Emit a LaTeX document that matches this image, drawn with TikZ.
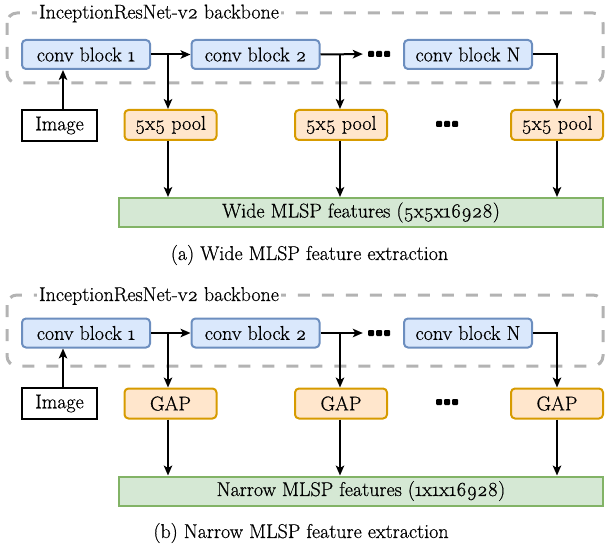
\documentclass[tikz,border=0pt]{standalone}
\usepackage{fontspec}
\setmainfont{Latin Modern Roman}[Numbers=OldStyle, FakeBold=0.6]
\usetikzlibrary{arrows.meta}
\definecolor{cbfill}{HTML}{DAE8FC}
\definecolor{cbdraw}{HTML}{6C8EBF}
\definecolor{plfill}{HTML}{FFE6CC}
\definecolor{pldraw}{HTML}{D79B00}
\definecolor{ftfill}{HTML}{D5E8D4}
\definecolor{ftdraw}{HTML}{82B366}
\definecolor{bbgray}{RGB}{179,179,179}
\tikzset{
  txt/.style={font=\fontsize{20}{23}\selectfont},
  cbbox/.style={txt, draw=cbdraw, fill=cbfill, rounded corners=4pt, line width=2pt,
    minimum width=128pt, minimum height=29pt, inner sep=0pt},
  plbox/.style={txt, draw=pldraw, fill=plfill, rounded corners=4pt, line width=2pt,
    minimum width=92pt, minimum height=30pt, inner sep=0pt},
  ftbox/.style={txt, draw=ftdraw, fill=ftfill, line width=2pt,
    minimum width=484pt, minimum height=29pt, inner sep=0pt},
  imgbox/.style={txt, draw=black, fill=white, line width=2pt,
    minimum width=75pt, minimum height=31pt, inner sep=0pt},
  backbone/.style={draw=bbgray, line width=3pt, dash pattern=on 12pt off 12pt, rounded corners=10pt},
  bblabel/.style={txt, fill=white, inner sep=2pt},
  arr/.style={-{Stealth[length=10pt,width=8.5pt,inset=2.5pt]}, line width=2pt},
  dotsnode/.style={minimum width=22pt, minimum height=6pt, inner sep=0pt},
  caption/.style={txt},
}
\begin{document}
\begin{tikzpicture}[x=1pt,y=-1pt]
\useasboundingbox (0,0) rectangle (605,548);

% ---------------- (a) ----------------
\draw[backbone] (7,13) rectangle (603,83);
\node[bblabel] (bbA) at (159,13.5) {InceptionResNet-v2 backbone};

\node[cbbox] (cb1A) at (86,54.5) {conv block 1};
\node[cbbox] (cb2A) at (255.5,54.5) {conv block 2};
\node[cbbox] (cbNA) at (468,54.5) {conv block N};
\node[dotsnode] (d1A) at (379,54) {};
\foreach \dx in {-8,0,8} \fill[rounded corners=1pt] ([xshift=\dx pt]d1A.center) ++(-3,-3) rectangle ++(6,6);

\node[imgbox] (imgA) at (59.5,125.5) {Image};
\node[plbox] (p1A) at (170.5,125) {5x5 pool};
\node[plbox] (p2A) at (341,125) {5x5 pool};
\node[plbox] (pNA) at (557,125) {5x5 pool};
\node[dotsnode] (d2A) at (447,124) {};
\foreach \dx in {-8,0,8} \fill[rounded corners=1pt] ([xshift=\dx pt]d2A.center) ++(-3,-3) rectangle ++(6,6);

\node[ftbox] (ftA) at (361,212.5) {Wide MLSP features (5x5x16928)};
\node[caption] (capA) at (309.5,255) {(a) Wide MLSP feature extraction};

\coordinate (b1A) at (168,54.5);
\coordinate (b2A) at (340,54.5);
\coordinate (bNA) at (557,54.5);
\draw[arr] ([xshift=3.5pt]imgA.north) -- ([xshift=3.5pt]imgA.north |- cb1A.south);
\draw[arr] (cb1A.east) -- (cb2A.west);
\draw[arr] (b1A) -- (b1A |- p1A.north);
\draw[arr, shorten >=5pt] (cb2A.east) -- (d1A.west);
\draw[arr] (b2A) -- (b2A |- p2A.north);
\draw[arr] (cbNA.east) -- (bNA) -- (bNA |- pNA.north);
\draw[arr] (b1A |- p1A.south) -- (b1A |- ftA.north);
\draw[arr] (b2A |- p2A.south) -- (b2A |- ftA.north);
\draw[arr] (bNA |- pNA.south) -- (bNA |- ftA.north);

% ---------------- (b) ----------------
\draw[backbone] (7,295) rectangle (603,366);
\node[bblabel] (bbB) at (159,296) {InceptionResNet-v2 backbone};

\node[cbbox] (cb1B) at (86,333) {conv block 1};
\node[cbbox] (cb2B) at (255.5,333) {conv block 2};
\node[cbbox] (cbNB) at (468,333) {conv block N};
\node[dotsnode] (d1B) at (379,333) {};
\foreach \dx in {-8,0,8} \fill[rounded corners=1pt] ([xshift=\dx pt]d1B.center) ++(-3,-3) rectangle ++(6,6);

\node[imgbox] (imgB) at (59.5,403.5) {Image};
\node[plbox] (p1B) at (170.5,403.5) {GAP};
\node[plbox] (p2B) at (341,403.5) {GAP};
\node[plbox] (pNB) at (557,403.5) {GAP};
\node[dotsnode] (d2B) at (447,402) {};
\foreach \dx in {-8,0,8} \fill[rounded corners=1pt] ([xshift=\dx pt]d2B.center) ++(-3,-3) rectangle ++(6,6);

\node[ftbox] (ftB) at (361,491) {Narrow MLSP features (1x1x16928)};
\node[caption] (capB) at (301,533) {(b) Narrow MLSP feature extraction};

\coordinate (b1B) at (168,333);
\coordinate (b2B) at (340,333);
\coordinate (bNB) at (557,333);
\draw[arr] ([xshift=3.5pt]imgB.north) -- ([xshift=3.5pt]imgB.north |- cb1B.south);
\draw[arr] (cb1B.east) -- (cb2B.west);
\draw[arr] (b1B) -- (b1B |- p1B.north);
\draw[arr, shorten >=5pt] (cb2B.east) -- (d1B.west);
\draw[arr] (b2B) -- (b2B |- p2B.north);
\draw[arr] (cbNB.east) -- (bNB) -- (bNB |- pNB.north);
\draw[arr] (b1B |- p1B.south) -- (b1B |- ftB.north);
\draw[arr] (b2B |- p2B.south) -- (b2B |- ftB.north);
\draw[arr] (bNB |- pNB.south) -- (bNB |- ftB.north);
\end{tikzpicture}
\end{document}
